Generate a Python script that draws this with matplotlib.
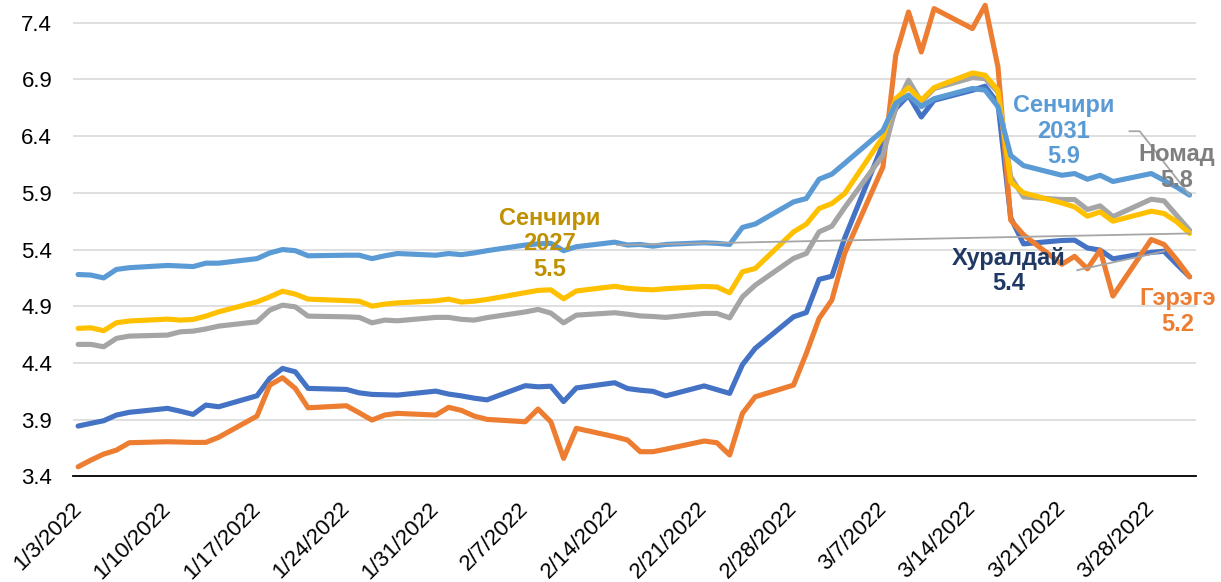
import matplotlib
matplotlib.use("Agg")
import matplotlib.pyplot as plt
import pandas as pd

plt.rcParams["font.family"] = ["Liberation Sans", "DejaVu Sans"]

# бизнес өдрүүд (1/3 - 3/31)
dates = pd.bdate_range("2022-01-03", "2022-03-31")
tick_dates = pd.date_range("2022-01-03", "2022-03-28", freq="7D")
y_ticks = [3.4, 3.9, 4.4, 4.9, 5.4, 5.9, 6.4, 6.9, 7.4]

khuraldai = [3.844, 3.868, 3.891, 3.941, 3.965,
             4.0, 3.975, 3.947, 4.029, 4.014,
             4.111, 4.264, 4.352, 4.322, 4.176,
             4.167, 4.137, 4.123, 4.12, 4.117,
             4.152, 4.126, 4.11, 4.09, 4.075,
             4.20, 4.19, 4.195, 4.06, 4.18,
             4.226, 4.175, 4.16, 4.15, 4.11,
             4.198, 4.165, 4.132, 4.385, 4.529,
             4.807, 4.845, 5.137, 5.165, 5.50,
             6.33, 6.643, 6.76, 6.569, 6.716,
             6.804, 6.84, 6.687, 5.68, 5.45,
             5.48, 5.483, 5.414, 5.395, 5.318,
             5.375, 5.385, 5.27, 5.16]

gerege = [3.485, 3.544, 3.597, 3.632, 3.697,
          3.706, 3.703, 3.70, 3.70, 3.745,
          3.932, 4.205, 4.27, 4.176, 4.005,
          4.023, 3.961, 3.897, 3.941, 3.956,
          3.941, 4.009, 3.982, 3.932, 3.903,
          3.882, 3.994, 3.882, 3.559, 3.824,
          3.75, 3.721, 3.618, 3.618, 3.64,
          3.712, 3.697, 3.589, 3.956, 4.102,
          4.205, 4.485, 4.793, 4.955, 5.366,
          6.129, 7.113, 7.494, 7.142, 7.524,
          7.348, 7.553, 7.01, 5.659, 5.53,
          5.27, 5.34, 5.23, 5.395, 4.99,
          5.489, 5.445, 5.31, 5.16]

nomad = [4.564, 4.564, 4.543, 4.617, 4.637,
         4.646, 4.675, 4.681, 4.70, 4.725,
         4.763, 4.866, 4.91, 4.895, 4.813,
         4.807, 4.802, 4.754, 4.778, 4.772,
         4.802, 4.802, 4.785, 4.778, 4.80,
         4.85, 4.872, 4.84, 4.754, 4.822,
         4.843, 4.83, 4.815, 4.81, 4.802,
         4.837, 4.837, 4.798, 4.983, 5.086,
         5.322, 5.366, 5.556, 5.606, 5.77,
         6.232, 6.657, 6.893, 6.701, 6.819,
         6.916, 6.907, 6.789, 6.041, 5.864,
         5.841, 5.841, 5.753, 5.785, 5.69,
         5.844, 5.829, 5.70, 5.571]

century27 = [4.705, 4.71, 4.685, 4.755, 4.77,
             4.787, 4.778, 4.784, 4.813, 4.851,
             4.939, 4.983, 5.033, 5.007, 4.963,
             4.95, 4.945, 4.901, 4.919, 4.93,
             4.948, 4.963, 4.937, 4.945, 4.96,
             5.02, 5.04, 5.045, 4.966, 5.035,
             5.076, 5.058, 5.05, 5.045, 5.055,
             5.075, 5.07, 5.019, 5.204, 5.233,
             5.556, 5.624, 5.762, 5.806, 5.894,
             6.393, 6.731, 6.828, 6.716, 6.828,
             6.957, 6.937, 6.804, 5.996, 5.90,
             5.811, 5.776, 5.694, 5.732, 5.65,
             5.738, 5.718, 5.644, 5.542]

century31 = [5.18, 5.175, 5.15, 5.225, 5.24,
             5.26, 5.255, 5.25, 5.28, 5.28,
             5.32, 5.37, 5.40, 5.39, 5.345,
             5.35, 5.35, 5.32, 5.345, 5.365,
             5.35, 5.365, 5.355, 5.37, 5.39,
             5.44, 5.45, 5.455, 5.39, 5.425,
             5.465, 5.44, 5.445, 5.43, 5.445,
             5.46, 5.455, 5.445, 5.595, 5.625,
             5.82, 5.85, 6.02, 6.065, 6.16,
             6.45, 6.69, 6.76, 6.66, 6.73,
             6.82, 6.805, 6.66, 6.23, 6.14,
             6.055, 6.07, 6.02, 6.055, 6.0,
             6.07, 6.01, 5.95, 5.88]

# Excel-ийн дарааллаар зурна (сүүлийнх нь дээр)
series = [
    (khuraldai, "#4472C4"),
    (gerege, "#ED7D31"),
    (nomad, "#A5A5A5"),
    (century27, "#FFC000"),
    (century31, "#5B9BD5"),
]

days = (dates - dates[0]).days
tick_pos = (tick_dates - dates[0]).days

fig = plt.figure(figsize=(12.21, 5.82), dpi=100)
ax = fig.add_axes([0.0598, 0.1814, 0.9197, 0.8186])

for vals, color in series:
    ax.plot(days, vals, color=color, linewidth=3.7, solid_joinstyle="round",
            solid_capstyle="round", clip_on=False, zorder=3)

ax.set_xlim(-0.4, 87.5)
ax.set_ylim(3.4, 7.6)
ax.set_yticks(y_ticks)
ax.set_yticklabels([f"{v:.1f}" for v in y_ticks], fontsize=16)
ax.set_xticks(tick_pos)
ax.set_xticklabels([f"{t.month}/{t.day}/{t.year}" for t in tick_dates],
                   fontsize=16, rotation=45, ha="right", va="center",
                   rotation_mode="anchor")
ax.tick_params(axis="x", length=0, pad=21)
ax.tick_params(axis="y", length=0, pad=15)

ax.yaxis.grid(True, color="#D9D9D9", linewidth=1.2)
ax.set_axisbelow(True)
for spine in ["top", "right", "left"]:
    ax.spines[spine].set_visible(False)
ax.spines["bottom"].set_color("#000000")
ax.spines["bottom"].set_linewidth(1.3)
ax.spines["bottom"].set_zorder(2)

# шошгоны заагч шугам
lead = dict(color="#A6A6A6", linewidth=1.3, zorder=5, clip_on=False)
ax.plot([42.2, days[-1]], [5.44, century27[-1]], **lead)
ax.plot([78.2, days[-3]], [5.218, khuraldai[-3]], **lead)
ax.plot([82.3, 83.1, days[-1]], [6.443, 6.443, century31[-1]], **lead)

label_kw = dict(fontsize=17, fontweight="bold", ha="center", va="center",
                linespacing=1.15, zorder=6)
ax.text(36.93, 5.45, "Сенчири\n2027\n5.5", color="#BF9000", **label_kw)
ax.text(77.15, 6.443, "Сенчири\n2031\n5.9", color="#5B9BD5", **label_kw)
ax.text(86.0, 6.122, "Номад\n5.8", color="#7F7F7F", **label_kw)
ax.text(72.85, 5.21, "Хуралдай\n5.4", color="#1F3864", **label_kw)
ax.text(86.07, 4.857, "Гэрэгэ\n5.2", color="#ED7D31", **label_kw)

fig.savefig("out.png", dpi=100)
